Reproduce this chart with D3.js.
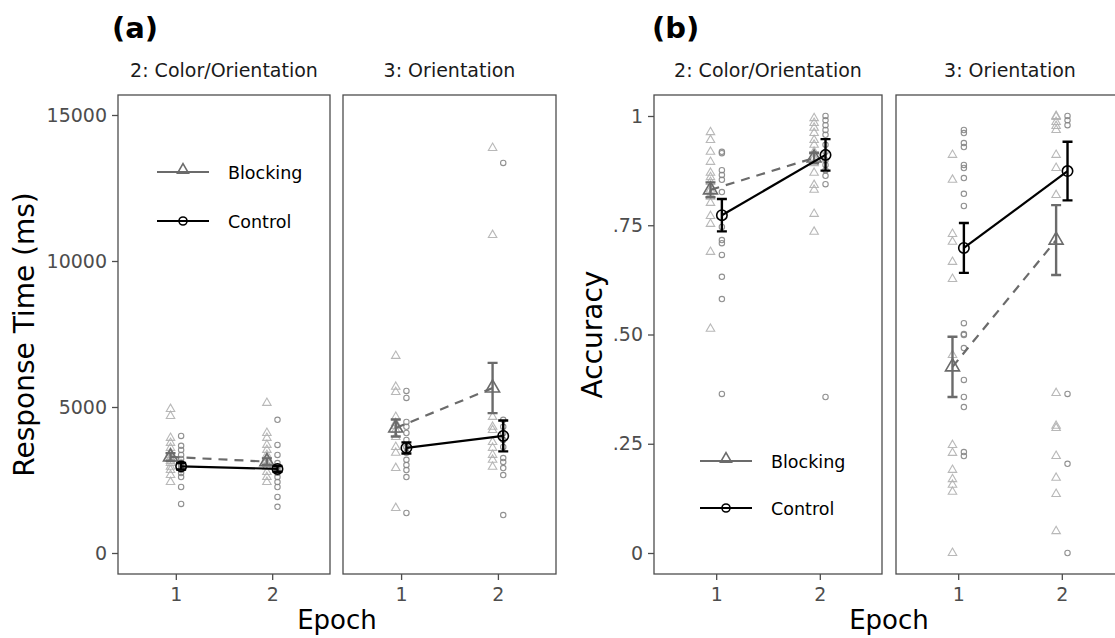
<!DOCTYPE html>
<html>
<head>
<meta charset="utf-8">
<script src="https://cdn.jsdelivr.net/npm/d3@7"></script>
<style>
  body { margin: 0; background: #fff; }
  text { font-family: "DejaVu Sans", sans-serif; }
</style>
</head>
<body>
<div id="chart"></div>
<script>
// ---- data ----
const epochs = [1, 2];
const groups = ["Blocking", "Control"];
const facets = ["2: Color/Orientation", "3: Orientation"];
const rtTicks = [0, 5000, 10000, 15000];
const accTicks = [0, 0.25, 0.5, 0.75, 1];
const accTickLabels = ["0", ".25", ".50", ".75", "1"];

// response time, individual participants (ms)
const rtCO_block_e1 = [4930, 4690, 3940, 3770, 3600, 3430, 3250, 3080, 2840, 2670, 2430, 3350, 3150, 2950];
const rtCO_block_e2 = [5140, 4110, 3940, 3700, 3530, 3360, 3190, 2950, 2770, 2600, 2430, 3050, 3250];
const rtCO_ctrl_e1 = [4010, 3670, 3530, 3360, 3220, 3010, 2840, 2740, 2600, 2260, 1680, 3100, 2900];
const rtCO_ctrl_e2 = [4560, 3700, 3360, 3080, 2840, 2600, 2430, 2260, 1920, 1580, 2950, 2750];
const rtO_block_e1 = [6750, 5690, 5510, 4660, 4450, 4210, 3970, 3630, 3430, 2910, 1540, 4350];
const rtO_block_e2 = [13870, 10890, 4660, 4320, 4210, 3800, 3600, 3360, 3190, 2950];
const rtO_ctrl_e1 = [5550, 5310, 4490, 4320, 4110, 3870, 3630, 3430, 3190, 3010, 2840, 2600, 1370];
const rtO_ctrl_e2 = [13360, 4560, 4320, 4110, 3870, 3630, 3250, 3120, 2910, 2670, 1300];

// accuracy, individual participants
const accCO_block_e1 = [0.963, 0.945, 0.918, 0.895, 0.87, 0.849, 0.831, 0.815, 0.801, 0.771, 0.753, 0.689, 0.513, 0.86, 0.82];
const accCO_block_e2 = [0.995, 0.984, 0.973, 0.961, 0.945, 0.934, 0.918, 0.904, 0.892, 0.87, 0.842, 0.831, 0.776, 0.735];
const accCO_ctrl_e1 = [0.918, 0.915, 0.876, 0.865, 0.854, 0.826, 0.746, 0.716, 0.709, 0.682, 0.632, 0.581, 0.364];
const accCO_ctrl_e2 = [1.0, 0.99, 0.979, 0.968, 0.957, 0.934, 0.918, 0.899, 0.888, 0.876, 0.863, 0.844, 0.357];
const accO_block_e1 = [0.911, 0.854, 0.73, 0.712, 0.666, 0.627, 0.453, 0.247, 0.229, 0.19, 0.169, 0.156, 0.14, 0.0];
const accO_block_e2 = [1.0, 0.998, 0.986, 0.977, 0.968, 0.911, 0.881, 0.819, 0.366, 0.291, 0.286, 0.222, 0.172, 0.135, 0.05];
const accO_ctrl_e1 = [0.968, 0.961, 0.938, 0.929, 0.888, 0.881, 0.858, 0.822, 0.794, 0.526, 0.501, 0.499, 0.469, 0.396, 0.357, 0.334, 0.231, 0.222];
const accO_ctrl_e2 = [1.0, 0.99, 0.979, 0.364, 0.204, 0.0];

// group means and standard errors, per epoch
const rtCO_block_mean = [3290, 3130], rtCO_block_se = [130, 110];
const rtCO_ctrl_mean = [2970, 2880], rtCO_ctrl_se = [110, 100];
const rtO_block_mean = [4280, 5650], rtO_block_se = [290, 860];
const rtO_ctrl_mean = [3600, 4010], rtO_ctrl_se = [190, 530];
const accCO_block_mean = [0.831, 0.904], accCO_block_se = [0.017, 0.012];
const accCO_ctrl_mean = [0.773, 0.911], accCO_ctrl_se = [0.037, 0.036];
const accO_block_mean = [0.426, 0.716], accO_block_se = [0.069, 0.08];
const accO_ctrl_mean = [0.698, 0.874], accO_ctrl_se = [0.057, 0.067];

// build facet tables
function facetData(bE1, bE2, cE1, cE2, bM, bS, cM, cS) {
    return {
        points: [
            { group: "Blocking", epoch: 1, vals: bE1 }, { group: "Blocking", epoch: 2, vals: bE2 },
            { group: "Control", epoch: 1, vals: cE1 }, { group: "Control", epoch: 2, vals: cE2 }
        ],
        summary: [
            { group: "Blocking", mean: bM, se: bS },
            { group: "Control", mean: cM, se: cS }
        ]
    };
}
const rtFacets = [
    facetData(rtCO_block_e1, rtCO_block_e2, rtCO_ctrl_e1, rtCO_ctrl_e2, rtCO_block_mean, rtCO_block_se, rtCO_ctrl_mean, rtCO_ctrl_se),
    facetData(rtO_block_e1, rtO_block_e2, rtO_ctrl_e1, rtO_ctrl_e2, rtO_block_mean, rtO_block_se, rtO_ctrl_mean, rtO_ctrl_se)
];
const accFacets = [
    facetData(accCO_block_e1, accCO_block_e2, accCO_ctrl_e1, accCO_ctrl_e2, accCO_block_mean, accCO_block_se, accCO_ctrl_mean, accCO_ctrl_se),
    facetData(accO_block_e1, accO_block_e2, accO_ctrl_e1, accO_ctrl_e2, accO_block_mean, accO_block_se, accO_ctrl_mean, accO_ctrl_se)
];

// ---- styles ----
const style = {
    blockDark: "#6b6b6b",
    blockLight: "#b0b0b0",
    ctrlDark: "#000000",
    ctrlLight: "#858585",
    axis: "#4d4d4d",
    border: "#4d4d4d",
    dodge: 0.055
};

const svg = d3.select("#chart").append("svg")
    .attr("width", 1115).attr("height", 638)
    .style("background", "#fff");

const tri = (cx, cy, s) => {
    const h = s * 0.866;
    return `M${cx},${cy - h * 2 / 3}L${cx + s / 2},${cy + h / 3}L${cx - s / 2},${cy + h / 3}Z`;
};

function drawPanel(opt) {
    const y = d3.scaleLinear().domain(opt.yDomain).range([opt.y0, opt.y1]);

    // panel letter
    svg.append("text").attr("x", opt.letterX).attr("y", 38)
        .attr("font-size", 29).attr("font-weight", "bold").text(opt.letter);

    // y axis ticks and labels
    const yAx = svg.append("g").attr("transform", `translate(${opt.facetX[0][0]},0)`)
        .call(d3.axisLeft(y).tickValues(opt.ticks).tickFormat((d, i) => opt.tickLabels[i]).tickSize(6).tickPadding(5));
    yAx.select(".domain").remove();
    yAx.selectAll("line").attr("stroke", style.axis).attr("stroke-width", 1.3);
    yAx.selectAll("text").attr("fill", style.axis).attr("font-size", 19).attr("font-family", "DejaVu Sans");

    // y title
    svg.append("text")
        .attr("transform", `translate(${opt.yTitleX},${(opt.top + opt.bottom) / 2}) rotate(-90)`)
        .attr("text-anchor", "middle").attr("font-size", 28).text(opt.yTitle);

    // x title
    svg.append("text").attr("x", (opt.facetX[0][0] + opt.facetX[1][1]) / 2).attr("y", 629)
        .attr("text-anchor", "middle").attr("font-size", 26).text("Epoch");

    opt.data.forEach((fd, fi) => {
        const [xa, xb] = opt.facetX[fi];
        const x = d3.scaleLinear().domain([0.4, 2.6]).range([xa, xb]);
        const g = svg.append("g");
        const off = grp => grp === "Blocking" ? -style.dodge : style.dodge;

        // strip label
        svg.append("text").attr("x", (xa + xb) / 2).attr("y", 77)
            .attr("text-anchor", "middle").attr("font-size", 19).attr("fill", "#1a1a1a").text(facets[fi]);

        // x axis
        const xAx = svg.append("g").attr("transform", `translate(0,${opt.bottom})`)
            .call(d3.axisBottom(x).tickValues(epochs).tickFormat(d3.format("d")).tickSize(6).tickPadding(8));
        xAx.select(".domain").remove();
        xAx.selectAll("line").attr("stroke", style.axis).attr("stroke-width", 1.3);
        xAx.selectAll("text").attr("fill", style.axis).attr("font-size", 19).attr("font-family", "DejaVu Sans");

        // individual points
        fd.points.forEach(p => {
            const px = x(p.epoch + off(p.group));
            p.vals.forEach(v => {
                if (p.group === "Blocking") {
                    g.append("path").attr("d", tri(px, y(v), 8.5))
                        .attr("fill", "none").attr("stroke", style.blockLight).attr("stroke-width", 1.1).attr("opacity", 0.9);
                } else {
                    g.append("circle").attr("cx", px).attr("cy", y(v)).attr("r", 2.7)
                        .attr("fill", "none").attr("stroke", style.ctrlLight).attr("stroke-width", 1.1).attr("opacity", 0.9);
                }
            });
        });

        // summary lines, error bars, means
        fd.summary.forEach(s => {
            const col = s.group === "Blocking" ? style.blockDark : style.ctrlDark;
            const pts = epochs.map((e, i) => [x(e + off(s.group)), y(s.mean[i])]);
            g.append("path").attr("d", d3.line()(pts)).attr("fill", "none")
                .attr("stroke", col).attr("stroke-width", 2.2)
                .attr("stroke-dasharray", s.group === "Blocking" ? "9,7" : null);
            epochs.forEach((e, i) => {
                const cx = x(e + off(s.group));
                const hi = y(s.mean[i] + s.se[i]), lo = y(s.mean[i] - s.se[i]);
                g.append("path")
                    .attr("d", `M${cx - 5},${hi}H${cx + 5}M${cx},${hi}V${lo}M${cx - 5},${lo}H${cx + 5}`)
                    .attr("stroke", col).attr("stroke-width", 2.4).attr("fill", "none");
                if (s.group === "Blocking") {
                    g.append("path").attr("d", tri(cx, y(s.mean[i]), 14))
                        .attr("fill", "none").attr("stroke", col).attr("stroke-width", 1.6);
                } else {
                    g.append("circle").attr("cx", cx).attr("cy", y(s.mean[i])).attr("r", 5.2)
                        .attr("fill", "none").attr("stroke", col).attr("stroke-width", 1.6);
                }
            });
        });

        // facet border
        svg.append("rect").attr("x", xa).attr("y", opt.top)
            .attr("width", xb - xa).attr("height", opt.bottom - opt.top)
            .attr("fill", "none").attr("stroke", style.border).attr("stroke-width", 1.3);
    });

    // legend
    groups.forEach((grp, i) => {
        const ly = opt.legend.y + i * opt.legend.gap;
        const lx = opt.legend.x;
        const col = grp === "Blocking" ? style.blockDark : style.ctrlDark;
        svg.append("line").attr("x1", lx).attr("x2", lx + 52).attr("y1", ly).attr("y2", ly)
            .attr("stroke", col).attr("stroke-width", 2.2);
        if (grp === "Blocking") {
            svg.append("path").attr("d", tri(lx + 26, ly - 2, 11))
                .attr("fill", "none").attr("stroke", col).attr("stroke-width", 1.6);
        } else {
            svg.append("circle").attr("cx", lx + 26).attr("cy", ly).attr("r", 4)
                .attr("fill", "none").attr("stroke", col).attr("stroke-width", 1.6);
        }
        svg.append("text").attr("x", lx + 71).attr("y", ly + 6.5).attr("font-size", 17.5).text(grp);
    });
}

drawPanel({
    letter: "(a)", letterX: 112, data: rtFacets,
    facetX: [[118, 330], [343, 556]],
    top: 95, bottom: 574, yDomain: [0, 15000], y0: 553, y1: 115,
    ticks: rtTicks, tickLabels: rtTicks.map(String),
    yTitle: "Response Time (ms)", yTitleX: 34,
    legend: { x: 157, y: 172, gap: 49 }
});

drawPanel({
    letter: "(b)", letterX: 652, data: accFacets,
    facetX: [[654, 882], [896, 1124]],
    top: 95, bottom: 574, yDomain: [0, 1], y0: 553, y1: 116,
    ticks: accTicks, tickLabels: accTickLabels,
    yTitle: "Accuracy", yTitleX: 602,
    legend: { x: 700, y: 461, gap: 47 }
});
</script>
</body>
</html>
